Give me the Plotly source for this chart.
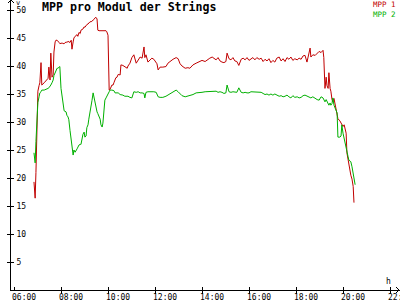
import plotly.graph_objects as go

title_text = "MPP pro Modul der Strings"
series_names = ["MPP 1", "MPP 2"]
series_colors = ["#c00000", "#00b000"]
ytick_vals = [5, 10, 15, 20, 25, 30, 35, 40, 45, 50]
xtick_labels = ["06:00", "08:00", "10:00", "12:00", "14:00", "16:00", "18:00", "20:00", "22:00"]
day = "2024-06-01"

times = [
    "06:51", "06:54", "06:56", "06:59", "07:01", "07:04", "07:06", "07:09", "07:11", "07:17",
    "07:22", "07:27", "07:29", "07:32", "07:34", "07:37", "07:40", "07:42", "07:45", "07:47",
    "07:50", "07:52", "07:55", "07:57", "08:00", "08:03", "08:05", "08:08", "08:13", "08:15",
    "08:18", "08:20", "08:23", "08:26", "08:28", "08:31", "08:33", "08:36", "08:41", "08:43",
    "08:46", "08:49", "08:51", "08:56", "08:59", "09:01", "09:04", "09:06", "09:09", "09:11",
    "09:14", "09:17", "09:19", "09:22", "09:24", "09:27", "09:29", "09:32", "09:34", "09:37",
    "09:40", "09:42", "09:45", "09:47", "09:50", "09:52", "09:55", "09:57", "10:00", "10:03",
    "10:05", "10:10", "10:13", "10:15", "10:18", "10:20", "10:23", "10:26", "10:31", "10:33",
    "10:38", "10:43", "10:46", "10:49", "10:51", "10:56", "11:01", "11:06", "11:12", "11:17",
    "11:22", "11:27", "11:32", "11:34", "11:37", "11:42", "11:47", "11:52", "11:57", "12:03",
    "12:05", "12:08", "12:13", "12:20", "12:28", "12:33", "12:41", "12:46", "12:54", "12:59",
    "13:04", "13:09", "13:17", "13:24", "13:29", "13:37", "13:45", "13:52", "14:00", "14:08",
    "14:15", "14:20", "14:26", "14:31", "14:36", "14:41", "14:46", "14:51", "14:56", "15:01",
    "15:04", "15:09", "15:14", "15:19", "15:24", "15:29", "15:34", "15:40", "15:45", "15:50",
    "15:55", "16:00", "16:05", "16:10", "16:15", "16:20", "16:26", "16:31", "16:36", "16:41",
    "16:46", "16:51", "16:56", "17:01", "17:06", "17:11", "17:17", "17:22", "17:27", "17:32",
    "17:37", "17:42", "17:47", "17:52", "17:57", "18:03", "18:08", "18:13", "18:18", "18:23",
    "18:28", "18:31", "18:36", "18:38", "18:43", "18:49", "18:54", "18:59", "19:04", "19:09",
    "19:11", "19:14", "19:17", "19:19", "19:22", "19:24", "19:27", "19:29", "19:32", "19:34",
    "19:37", "19:40", "19:42", "19:45", "19:47", "19:52", "19:55", "19:57", "20:00", "20:03",
    "20:05", "20:08", "20:10", "20:13", "20:15", "20:18", "20:20", "20:23", "20:26", "20:28",
    "20:31",
]

mpp1 = [
    19.3, 16.4, 21.0, 28.5, 35.5, 36.5, 37.0, 40.6, 36.6, 37.0,
    37.5, 37.8, 39.8, 37.5, 42.3, 38.0, 38.4, 42.5, 44.3, 44.6,
    44.6, 44.5, 44.2, 44.0, 44.1, 44.1, 44.0, 44.0, 44.3, 44.2,
    44.4, 44.3, 44.2, 44.6, 43.0, 44.3, 45.0, 45.3, 45.6, 45.3,
    46.0, 45.8, 46.4, 46.6, 47.0, 46.9, 47.3, 47.4, 47.5, 47.7,
    47.9, 47.9, 48.0, 48.2, 48.3, 48.6, 48.7, 48.4, 46.4, 46.3,
    46.3, 46.3, 46.3, 46.2, 46.2, 46.3, 46.3, 46.1, 45.5, 35.7,
    35.8, 36.6, 36.6, 37.0, 37.5, 37.9, 38.0, 38.5, 38.4, 40.2,
    40.1, 39.8, 39.7, 39.6, 40.0, 40.5, 41.5, 42.0, 40.5, 41.0,
    41.6, 41.4, 43.4, 41.5, 42.0, 40.7, 41.1, 41.4, 41.2, 40.6,
    40.4, 39.3, 39.8, 39.8, 39.9, 40.5, 41.0, 41.2, 41.5, 41.3,
    40.4, 40.0, 39.6, 39.7, 39.6, 40.2, 40.5, 40.7, 41.0, 40.8,
    41.2, 41.4, 41.6, 41.4, 41.1, 41.5, 40.9, 40.7, 40.6, 40.8,
    42.3, 41.3, 41.1, 41.5, 40.9, 40.8, 40.1, 41.2, 41.4, 41.1,
    41.5, 41.0, 41.3, 41.5, 41.1, 41.5, 41.2, 41.4, 40.8, 41.2,
    40.9, 41.3, 40.6, 41.0, 40.7, 41.4, 41.6, 40.9, 41.3, 40.8,
    41.5, 41.2, 41.6, 41.0, 41.3, 41.1, 41.4, 41.2, 41.8, 41.9,
    40.7, 41.5, 43.2, 41.6, 42.0, 41.9, 42.3, 42.6, 42.4, 42.8,
    41.5, 36.0, 38.0, 36.5, 36.0, 38.8, 36.0, 35.5, 34.0, 33.6,
    34.2, 33.0, 32.0, 31.2, 30.6, 30.2, 29.8, 29.5, 29.2, 29.5,
    28.8, 28.0, 24.5, 23.2, 22.8, 21.6, 20.5, 19.8, 18.5, 15.6,
    None,
]

mpp2 = [
    24.5, 22.7, 26.5, 30.5, 33.5, 34.5, 35.2, 35.4, 35.7, 35.7,
    35.8, 36.0, 36.1, 36.3, 36.6, 37.0, 37.5, 38.3, 38.9, 39.3,
    39.6, 39.6, 39.7, 39.9, 36.0, 34.3, 33.9, 32.0, 31.8, 31.2,
    30.9, 30.4, 28.5, 26.5, 25.8, 24.1, 25.0, 24.6, 25.2, 25.5,
    25.9, 26.0, 26.0, 27.8, 28.2, 27.3, 27.5, 29.0, 29.5, 30.5,
    31.6, 32.5, 33.8, 35.2, 34.5, 33.5, 32.5, 31.8, 31.5, 31.0,
    30.5, 29.5, 29.1, 29.8, 33.0, 33.9, 34.3, 34.5, 35.0, 35.4,
    35.7, 35.7, 35.6, 35.6, 35.2, 35.2, 35.2, 35.2, 34.9, 34.9,
    34.8, 34.6, 34.6, 34.6, 34.6, 34.4, 34.3, 35.4, 35.3, 35.4,
    35.2, 35.2, 35.1, 34.3, 35.3, 35.4, 35.4, 35.5, 35.4, 35.3,
    34.8, 34.5, 34.4, 34.4, 34.6, 34.8, 35.2, 35.3, 35.7, 35.4,
    35.0, 34.7, 34.5, 34.6, 34.8, 34.9, 35.2, 35.2, 35.3, 35.4,
    35.4, 35.4, 35.4, 35.4, 35.5, 35.3, 35.4, 35.3, 35.1, 35.2,
    36.6, 35.4, 35.3, 35.4, 35.4, 35.3, 36.1, 35.3, 35.2, 35.3,
    35.2, 35.2, 35.4, 35.4, 35.4, 35.4, 35.3, 35.3, 35.1, 34.9,
    35.0, 34.8, 35.0, 34.8, 35.0, 34.8, 34.6, 34.7, 34.5, 34.6,
    34.8, 34.5, 34.3, 34.7, 34.4, 34.5, 34.3, 34.4, 34.7, 34.8,
    34.6, 34.5, 34.4, 34.3, 34.5, 34.2, 34.0, 33.9, 34.5, 34.3,
    33.9, 33.6, 34.0, 33.6, 33.2, 33.0, 33.4, 33.0, 33.3, 34.3,
    33.0, 32.5, 32.2, 31.6, 27.3, 27.3, 27.5, 29.5, 28.0, 26.9,
    26.2, 25.5, 24.2, 23.8, 23.2, 23.0, 22.9, 22.0, 20.5, 19.5,
    18.8,
]

# ---- geometry helpers (pixel layout of the 400x300 canvas) ----
W, H = 400, 300
ML, MR, MT, MB = 11, 0, 0, 10
PW, PH = W - ML - MR, H - MT - MB


def px(xp):
    return (xp - ML) / PW


def py(yp):
    return (H - MB - yp) / PH


x_vals = [f"{day} {t}" for t in times]
x_range = [f"{day} 05:52:20", f"{day} 22:25:32"]
y_range = [0, 51.786]
xtick_vals = [f"{day} {t}" for t in xtick_labels]

mono = "DejaVu Sans Mono"
fig = go.Figure()
for name, vals, col in zip(series_names, [mpp1, mpp2], series_colors):
    fig.add_trace(go.Scatter(x=x_vals, y=vals, mode="lines", name=name,
                             line=dict(color=col, width=1), showlegend=False,
                             hoverinfo="skip"))
# empty trace so the overlay axes (second half of the crossing ticks) are drawn
fig.add_trace(go.Scatter(x=[], y=[], xaxis="x2", yaxis="y2", showlegend=False))

tickfont = dict(family=mono, size=8, color="black")
fig.update_layout(
    template="none",
    width=W, height=H,
    margin=dict(l=ML, r=MR, t=MT, b=MB, pad=0, autoexpand=False),
    paper_bgcolor="white", plot_bgcolor="white",
    showlegend=False,
    xaxis=dict(type="date", range=x_range, tickvals=xtick_vals,
               ticks="outside", ticklen=3, tickcolor="black", tickwidth=1,
               showline=True, linecolor="black", linewidth=1, showgrid=False, zeroline=False,
               showticklabels=False, automargin=False),
    yaxis=dict(range=y_range, tickvals=ytick_vals, ticks="inside", ticklen=3,
               tickcolor="black", tickwidth=1, ticklabelposition="inside", automargin=False,
               showline=True, linecolor="black", linewidth=1, showgrid=False, zeroline=False,
               tickfont=tickfont, ticklabelstandoff=1),
    xaxis2=dict(type="date", range=x_range, overlaying="x", tickvals=xtick_vals,
                ticks="inside", ticklen=3, tickcolor="black", showticklabels=False,
                showline=False, showgrid=False, zeroline=False, anchor="y", automargin=False),
    yaxis2=dict(range=y_range, overlaying="y", tickvals=ytick_vals, ticks="outside",
                ticklen=3, tickcolor="black", showticklabels=False, showline=False,
                showgrid=False, zeroline=False, anchor="x", automargin=False),
)

# x tick labels: placed at the tick times on the x axis, starting just left of each tick
for tv, tl in zip(xtick_vals, xtick_labels):
    fig.add_annotation(x=tv, xref="x", y=py(292.3), yref="paper", showarrow=False,
                       xanchor="left", yanchor="top", xshift=-3.5, borderpad=0,
                       text=tl, font=tickfont)

# arrow heads on the axes
arrow = dict(type="line", xref="paper", yref="paper", xsizemode="pixel", ysizemode="pixel",
             line=dict(color="black", width=1))
fig.add_shape(**arrow, xanchor=0, yanchor=1, x0=-3, y0=-3, x1=0, y1=0)
fig.add_shape(**arrow, xanchor=0, yanchor=1, x0=3, y0=-3, x1=0, y1=0)
fig.add_shape(**arrow, xanchor=1, yanchor=0, x0=-4, y0=3, x1=-1, y1=0)
fig.add_shape(**arrow, xanchor=1, yanchor=0, x0=-4, y0=-3, x1=-1, y1=0)

ann = dict(xref="paper", yref="paper", showarrow=False)
fig.add_annotation(**ann, x=px(40), y=py(7), xanchor="left", yanchor="middle",
                   text=f"<b>{title_text}</b>", font=dict(family=mono, size=11.6, color="black"))
legend_text = "<br>".join(
    f"<span style='color:{c}'>{n}</span>" for n, c in zip(series_names, series_colors))
fig.add_annotation(**ann, x=px(397), y=py(-1), xanchor="right", yanchor="top", align="right",
                   borderpad=0, text=legend_text, font=dict(family=mono, size=7.5))
fig.add_annotation(**ann, x=px(18), y=py(3.5), xanchor="center", yanchor="middle", borderpad=0,
                   text="v", font=dict(family=mono, size=7, color="black"))
fig.add_annotation(**ann, x=px(388), y=py(281), xanchor="center", yanchor="middle",
                   text="h", font=dict(family=mono, size=8, color="black"))

fig.write_html("out.html", config={"displayModeBar": False})
